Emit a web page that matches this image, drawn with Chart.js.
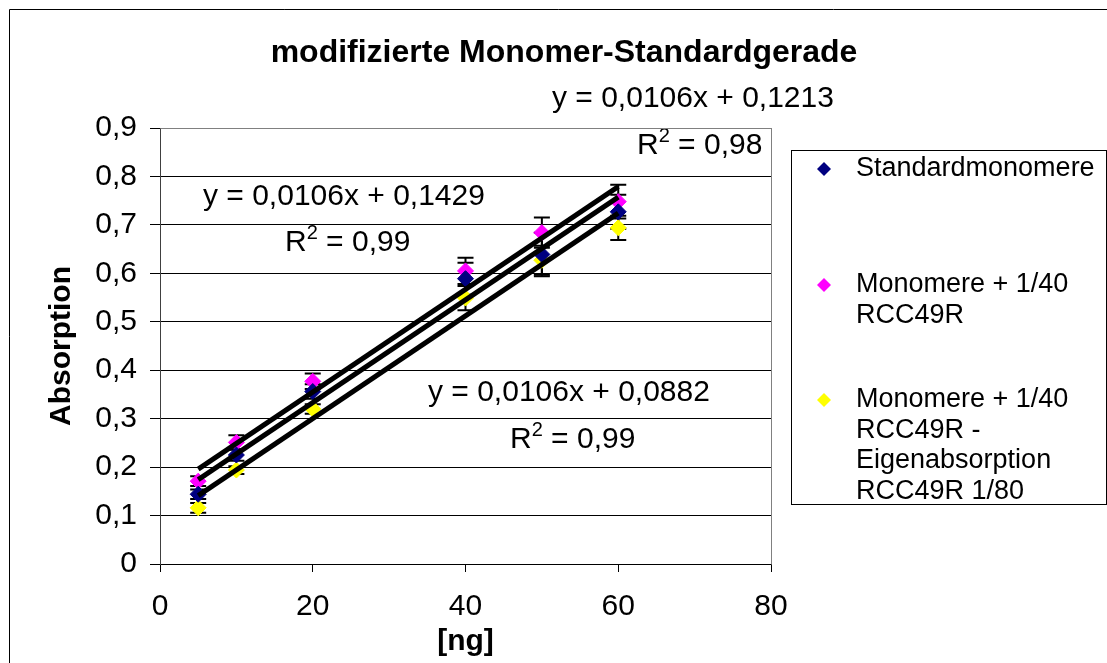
<!DOCTYPE html>
<html>
<head>
<meta charset="utf-8">
<script src="https://cdn.jsdelivr.net/npm/chart.js@4/dist/chart.umd.min.js"></script>
<style>
html,body{margin:0;padding:0;background:#fff;}
#wrap{width:1107px;height:663px;position:relative;}
</style>
</head>
<body>
<div id="wrap"><canvas id="c"></canvas></div>
<script>
// ---- data ----
const xValues = [5, 10, 20, 40, 50, 60];
const standardMonomere = [0.144, 0.225, 0.356, 0.589, 0.639, 0.727];
const monomereRCC = [0.171, 0.251, 0.377, 0.605, 0.684, 0.748];
const monomereKorr = [0.116, 0.194, 0.320, 0.549, 0.627, 0.694];
const errStandard = [0.010, 0.012, 0.015, 0.033, 0.045, 0.035];
const errRCC = [0.010, 0.015, 0.016, 0.027, 0.031, 0.035];
const errKorr = [0.010, 0.008, 0.010, 0.025, 0.030, 0.025];
const trendX = [5, 60];
const trendStandard = [0.1743, 0.7573];
const trendRCC = [0.1959, 0.7789];
const trendKorr = [0.1412, 0.7242];
const seriesNames = ['Standardmonomere', 'Monomere + 1/40 RCC49R', 'Monomere + 1/40 RCC49R - Eigenabsorption RCC49R 1/80'];
const legendLines = [['Standardmonomere'], ['Monomere + 1/40', 'RCC49R'], ['Monomere + 1/40', 'RCC49R -', 'Eigenabsorption', 'RCC49R 1/80']];
const equations = ['y = 0,0106x + 0,1213', 'y = 0,0106x + 0,1429', 'y = 0,0106x + 0,0882'];
const rSquared = ['0,98', '0,99', '0,99'];
const yTickLabels = ['0', '0,1', '0,2', '0,3', '0,4', '0,5', '0,6', '0,7', '0,8', '0,9'];
const xTickLabels = ['0', '20', '40', '60', '80'];
const titleText = 'modifizierte Monomer-Standardgerade';
const xTitle = '[ng]';
const yTitle = 'Absorption';

// ---- styles ----
const FONT = '"Liberation Sans", Arial, sans-serif';
const colors = ['#000080', '#FF00FF', '#FFFF00'];

const toPts = (ys) => ys.map((y, i) => ({x: xValues[i], y}));
const toTrend = (ys) => ys.map((y, i) => ({x: trendX[i], y}));

const bgPlugin = {
  id: 'bg',
  beforeDraw(chart) {
    const ctx = chart.ctx;
    ctx.save();
    ctx.fillStyle = '#fff';
    ctx.fillRect(0, 0, chart.width, chart.height);
    ctx.restore();
  }
};

const errorBarPlugin = {
  id: 'errorBars',
  beforeDatasetsDraw(chart, args, opts) {
    const ctx = chart.ctx;
    const xs = chart.scales.x, ys = chart.scales.y;
    const sets = [[standardMonomere, errStandard], [monomereRCC, errRCC], [monomereKorr, errKorr]];
    ctx.save();
    ctx.strokeStyle = '#000';
    ctx.lineWidth = opts.lineWidth;
    sets.forEach(([vals, errs]) => {
      vals.forEach((v, i) => {
        const px = xs.getPixelForValue(xValues[i]);
        const top = ys.getPixelForValue(v + errs[i]);
        const bot = ys.getPixelForValue(v - errs[i]);
        ctx.beginPath();
        ctx.moveTo(px, top); ctx.lineTo(px, bot);
        ctx.moveTo(px - opts.cap, top); ctx.lineTo(px + opts.cap, top);
        ctx.moveTo(px - opts.cap, bot); ctx.lineTo(px + opts.cap, bot);
        ctx.stroke();
      });
    });
    ctx.restore();
  }
};

function drawR2(ctx, x, y, val, size) {
  ctx.font = size + 'px ' + FONT;
  ctx.textAlign = 'left';
  ctx.textBaseline = 'middle';
  ctx.fillText('R', x, y);
  let w = ctx.measureText('R').width;
  ctx.font = Math.round(size * 0.66) + 'px ' + FONT;
  ctx.fillText('2', x + w, y - size * 0.33);
  w += ctx.measureText('2').width;
  ctx.font = size + 'px ' + FONT;
  ctx.fillText(' = ' + val, x + w, y);
}

const decorPlugin = {
  id: 'decor',
  afterDraw(chart, args, o) {
    const ctx = chart.ctx;
    ctx.save();
    // outer frame
    ctx.strokeStyle = '#000';
    ctx.lineWidth = 1;
    ctx.beginPath();
    ctx.moveTo(9.5, chart.height + 5); ctx.lineTo(9.5, 9.5); ctx.lineTo(chart.width + 5, 9.5);
    ctx.stroke();
    // title
    ctx.fillStyle = '#000';
    ctx.font = 'bold ' + o.titleSize + 'px ' + FONT;
    ctx.textAlign = 'center';
    ctx.textBaseline = 'middle';
    ctx.fillText(titleText, o.titleX, o.titleY);
    // equations
    o.eq.forEach((p, i) => {
      ctx.font = o.eqSize + 'px ' + FONT;
      ctx.textAlign = 'left';
      ctx.textBaseline = 'middle';
      ctx.fillText(equations[i], p[0], p[1]);
      drawR2(ctx, p[2], p[3], rSquared[i], o.eqSize);
    });
    // legend box
    const L = o.legend;
    ctx.strokeStyle = '#000';
    ctx.lineWidth = 1;
    ctx.strokeRect(L.x + 0.5, L.y + 0.5, L.w, L.h);
    ctx.font = L.size + 'px ' + FONT;
    ctx.textAlign = 'left';
    ctx.textBaseline = 'middle';
    legendLines.forEach((lines, i) => {
      const y0 = L.rows[i];
      const mx = L.markerX, r = L.markerR;
      ctx.fillStyle = colors[i];
      ctx.beginPath();
      ctx.moveTo(mx, y0 - r); ctx.lineTo(mx + r, y0); ctx.lineTo(mx, y0 + r); ctx.lineTo(mx - r, y0);
      ctx.closePath();
      ctx.fill();
      ctx.fillStyle = '#000';
      lines.forEach((t, j) => ctx.fillText(t, L.textX, y0 + j * L.lineH));
    });
    // plot border (right, top)
    const a = chart.chartArea;
    ctx.strokeStyle = '#808080';
    ctx.beginPath();
    ctx.moveTo(Math.round(a.left) + 0.5, Math.round(a.top) + 0.5);
    ctx.lineTo(Math.round(a.right) + 0.5, Math.round(a.top) + 0.5);
    ctx.lineTo(Math.round(a.right) + 0.5, Math.round(a.bottom) + 0.5);
    ctx.stroke();
    ctx.restore();
  }
};

const scatterDs = (label, vals, color) => ({
  type: 'scatter', label, data: toPts(vals),
  pointStyle: 'rectRot', pointRadius: 8, pointHoverRadius: 8,
  backgroundColor: color, borderColor: color, borderWidth: 1, order: 2
});
const trendDs = (vals) => ({
  type: 'line', label: 'trend', data: toTrend(vals), showLine: true,
  borderColor: '#000', borderWidth: 5, pointRadius: 0, fill: false, order: 1
});

new Chart(document.getElementById('c'), {
  type: 'scatter',
  data: {
    datasets: [
      scatterDs(seriesNames[0], standardMonomere, colors[0]),
      scatterDs(seriesNames[1], monomereRCC, colors[1]),
      scatterDs(seriesNames[2], monomereKorr, colors[2]),
      trendDs(trendStandard),
      trendDs(trendRCC),
      trendDs(trendKorr)
    ]
  },
  options: {
    responsive: true,
    maintainAspectRatio: false,
    animation: false,
    events: [],
    layout: {padding: {left: 0, right: 336, top: 128, bottom: 0}},
    plugins: {
      legend: {display: false},
      title: {display: false},
      tooltip: {enabled: false},
      errorBars: {lineWidth: 2, cap: 8},
      decor: {
        titleSize: 32, titleX: 564, titleY: 53,
        eqSize: 30,
        eq: [[552, 99, 637, 146], [203, 197, 285, 243], [428, 393, 510, 440]],
        legend: {x: 791, y: 150, w: 315, h: 354, size: 27, markerX: 824, markerR: 7,
                 textX: 856, lineH: 30.5, rows: [169, 285, 400]}
      }
    },
    scales: {
      x: {
        type: 'linear', min: 0, max: 80,
        afterFit(s) { s.height = 99; },
        ticks: {stepSize: 20, color: '#000', padding: 17, font: {family: FONT, size: 30},
                callback: (v, i) => xTickLabels[i]},
        grid: {color: (c) => (c.tick && c.tick.value === 80) ? '#808080' : 'rgba(0,0,0,0)',
               tickColor: '#000', tickLength: 8, lineWidth: 1},
        border: {color: '#000', width: 1},
        title: {display: true, text: xTitle, color: '#000', font: {family: FONT, size: 30, weight: 'bold', lineHeight: 1.2},
                padding: {top: 0, bottom: 3}}
      },
      y: {
        type: 'linear', min: 0, max: 0.9,
        afterFit(s) { s.width = 160; },
        ticks: {stepSize: 0.1, color: '#000', padding: 13, font: {family: FONT, size: 30},
                callback: (v, i) => yTickLabels[i]},
        grid: {color: (c) => (c.tick && Math.abs(c.tick.value - 0.9) < 1e-6) ? '#808080' : '#000',
               tickColor: '#000', tickLength: 10, lineWidth: 1},
        border: {color: '#404040', width: 1},
        title: {display: true, text: yTitle, color: '#000', font: {family: FONT, size: 30, weight: 'bold', lineHeight: 1.2},
                padding: {top: 44, bottom: 0}}
      }
    }
  },
  plugins: [bgPlugin, errorBarPlugin, decorPlugin]
});
</script>
</body>
</html>
